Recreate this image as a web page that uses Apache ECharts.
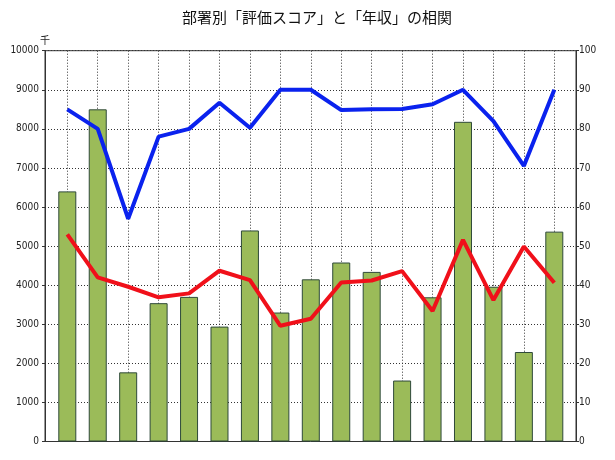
<!DOCTYPE html>
<html><head><meta charset="utf-8">
<script src="https://cdn.jsdelivr.net/npm/echarts@6/dist/echarts.min.js"></script>
<style>html,body{margin:0;padding:0;background:#fff}#c{width:615px;height:460px}</style>
</head><body><div id="c"></div>
<script>
const titleText = '部署別「評価スコア」と「年収」の相関';
const categories = ['1','2','3','4','5','6','7','8','9','10','11','12','13','14','15','16','17'];
const salary = [6400, 8500, 1770, 3540, 3700, 2940, 5400, 3300, 4150, 4580, 4340, 1560, 3690, 8180, 3960, 2290, 5370];
const blueScore = [85, 80, 57, 78, 80, 86.7, 80.3, 90, 90, 84.8, 85, 85.1, 86.3, 90, 82, 70.5, 90];
const redScore = [53, 42, 39.6, 36.9, 37.9, 43.7, 41.3, 29.6, 31.4, 40.7, 41.2, 43.6, 33.4, 51.6, 36.2, 49.9, 40.6];
const leftUnit = '千';

const lblFont = '"DejaVu Sans Condensed","Liberation Sans Narrow",sans-serif';
const dot = {color:'#333', type:[1,2], width:1};
const chart = echarts.init(document.getElementById('c'));
chart.setOption({
  animation:false,
  title:{text:titleText, left:177, top:5, textStyle:{fontFamily:'"Noto Sans CJK JP",sans-serif', fontSize:15, fontWeight:'normal', color:'#111'}},
  grid:[
    {left:67.3, right:60.7, top:50.7, bottom:18.5},
    {left:45, right:39, top:50.7, bottom:18.5, show:true, borderColor:'#333', borderWidth:1, backgroundColor:'transparent'}
  ],
  xAxis:[
    {type:'category', gridIndex:0, data:categories, boundaryGap:false,
     axisLine:{show:false}, axisLabel:{show:false},
     axisTick:{show:true, inside:true, length:3, lineStyle:{color:'#333'}},
     splitLine:{show:true, lineStyle:dot}},
    {type:'value', gridIndex:1, show:false, min:0, max:1}
  ],
  yAxis:[
    {type:'value', gridIndex:1, position:'left', min:0, max:10000, interval:1000,
     name:leftUnit, nameLocation:'end', nameGap:5, nameTextStyle:{fontSize:10, color:'#222', fontFamily:'"Noto Sans CJK JP",sans-serif'},
     axisLine:{show:true, lineStyle:{color:'#333'}},
     axisTick:{show:true, length:3, lineStyle:{color:'#333'}},
     axisLabel:{margin:6, fontSize:10, color:'#222', fontFamily:lblFont, formatter:v => String(v)},
     splitLine:{show:true, lineStyle:dot}},
    {type:'value', gridIndex:1, position:'right', min:0, max:100, interval:10,
     axisLine:{show:true, lineStyle:{color:'#333'}},
     axisTick:{show:true, length:3, lineStyle:{color:'#333'}},
     axisLabel:{margin:3, fontSize:10, color:'#222', fontFamily:lblFont, formatter:v => String(v)},
     splitLine:{show:false}},
    {type:'value', gridIndex:0, show:false, min:0, max:10000},
    {type:'value', gridIndex:0, show:false, min:0, max:100}
  ],
  series:[
    {type:'bar', xAxisIndex:0, yAxisIndex:2, data:salary, barWidth:18, clip:false,
     itemStyle:{color:'#9BBB59', borderColor:'#2F4A3A', borderWidth:1}, z:2},
    {type:'line', xAxisIndex:0, yAxisIndex:3, data:blueScore, symbol:'none', clip:false,
     lineStyle:{color:'#0A22EE', width:4}, z:3},
    {type:'line', xAxisIndex:0, yAxisIndex:3, data:redScore, symbol:'none', clip:false,
     lineStyle:{color:'#F0101A', width:4}, z:3}
  ]
});
</script></body></html>
